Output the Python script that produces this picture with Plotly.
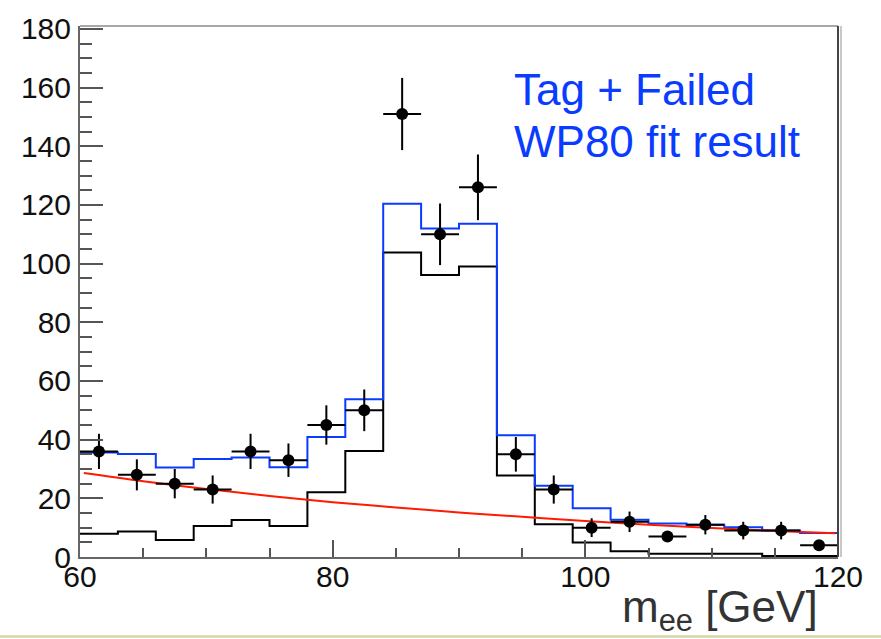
import plotly.graph_objects as go

# Di-electron invariant mass, 3 GeV bins from 60 to 120 GeV
bin_centers = [61.5, 64.5, 67.5, 70.5, 73.5, 76.5, 79.5, 82.5, 85.5, 88.5,
               91.5, 94.5, 97.5, 100.5, 103.5, 106.5, 109.5, 112.5, 115.5, 118.5]
bin_width = 3.0

# Observed events (tag + failed probe)
data_counts = [36, 28, 25, 23, 36, 33, 45, 50, 151, 110,
               126, 35, 23, 10, 12, 7, 11, 9, 9, 4]
data_errors = [6.0, 5.3, 5.0, 4.8, 6.0, 5.7, 6.7, 7.1, 12.3, 10.5,
               11.2, 5.9, 4.8, 3.2, 3.5, 1.5, 3.3, 3.0, 3.0, 1.5]

# Fit result: total (signal + background) and signal template
fit_total = [35.6, 35.1, 30.5, 33.4, 33.9, 30.6, 40.9, 53.8, 120.4, 112.0,
             113.6, 41.5, 24.3, 16.6, 12.7, 11.4, 11.0, 10.1, 9.0, 8.2]
fit_signal = [7.9, 8.7, 5.8, 10.6, 12.6, 10.6, 22.1, 36.1, 103.8, 96.1,
              99.0, 27.8, 11.2, 4.9, 2.0, 1.1, 1.1, 1.1, 0.3, 0.3]

# Background shape from the fit
bkg_mass = [60.3, 65, 70, 75, 80, 85, 90, 95, 100, 105, 110, 115, 119.8]
bkg_value = [28.6, 25.8, 23.2, 20.8, 18.7, 16.9, 15.2, 13.7, 12.3, 11.0, 9.9, 8.9, 8.1]

x_ticks = [60, 80, 100, 120]
y_ticks = [0, 20, 40, 60, 80, 100, 120, 140, 160, 180]

BLUE = "#0a3cff"
RED = "#ff1a00"
FONT = "Liberation Sans, Arial, Helvetica, sans-serif"

W, H = 881, 639
ML, MR, MT, MB = 80, 43, 18, 82
PW, PH = W - ML - MR, H - MT - MB
X_RANGE = [60, 120]
Y_RANGE = [0, 181]


def step_xy(centers, values):
    edges = [c - bin_width / 2 for c in centers] + [centers[-1] + bin_width / 2]
    return edges, list(values) + [values[-1]]


fig = go.Figure()

sx, sy = step_xy(bin_centers, fit_signal)
fig.add_trace(go.Scatter(x=sx, y=sy, mode="lines", line_shape="hv",
                         line=dict(color="#000000", width=2), hoverinfo="skip"))

tx, ty = step_xy(bin_centers, fit_total)
fig.add_trace(go.Scatter(x=tx, y=ty, mode="lines", line_shape="hv",
                         line=dict(color=BLUE, width=2), hoverinfo="skip"))

fig.add_trace(go.Scatter(x=bkg_mass, y=bkg_value, mode="lines", line_shape="spline",
                         line=dict(color=RED, width=2), hoverinfo="skip"))

fig.add_trace(go.Scatter(
    x=bin_centers, y=data_counts, mode="markers",
    marker=dict(color="#000000", size=12, symbol="circle"),
    error_y=dict(type="data", array=data_errors, color="#000000", thickness=2, width=0),
    error_x=dict(type="constant", value=bin_width / 2, color="#000000", thickness=2, width=0),
))

tick_font = dict(family=FONT, size=30, color="#111111")

fig.update_xaxes(
    range=X_RANGE, tickmode="array", tickvals=x_ticks, ticktext=[str(v) for v in x_ticks],
    ticks="inside", ticklen=17, tickwidth=2, tickcolor="#555555",
    minor=dict(dtick=5, ticks="inside", ticklen=9, tickwidth=2, tickcolor="#555555"),
    showline=True, linecolor="#666666", linewidth=2,
    showgrid=False, zeroline=False, tickfont=tick_font, ticklabelstandoff=-8,
)
fig.update_yaxes(
    range=Y_RANGE, tickmode="array", tickvals=y_ticks, ticktext=[str(v) for v in y_ticks],
    ticks="inside", ticklen=23, tickwidth=2, tickcolor="#555555",
    minor=dict(dtick=5, ticks="inside", ticklen=12, tickwidth=2, tickcolor="#555555"),
    showline=True, linecolor="#666666", linewidth=2,
    showgrid=False, zeroline=False, tickfont=tick_font, ticklabelstandoff=1,
)


def px_to_paper_x(px):
    return (px - ML) / PW


def px_to_paper_y(py):
    return (H - MB - py) / PH


shapes = [
    # top frame edge
    dict(type="line", xref="paper", yref="paper", x0=0, x1=1, y0=1, y1=1,
         line=dict(color="#a8a8a8", width=2)),
    # right frame edge with its light shadow
    dict(type="line", xref="paper", yref="paper", x0=px_to_paper_x(841), x1=px_to_paper_x(841),
         y0=0, y1=1, line=dict(color="#c8c8c8", width=2)),
    dict(type="line", xref="paper", yref="paper", x0=1, x1=1, y0=0, y1=1,
         line=dict(color="#444444", width=2)),
    # slide footer rule
    dict(type="rect", xref="paper", yref="paper",
         x0=px_to_paper_x(0), x1=px_to_paper_x(W),
         y0=px_to_paper_y(639), y1=px_to_paper_y(636.5),
         line=dict(width=0), fillcolor="#d6d6ab"),
]

annotations = [
    dict(text="Tag + Failed", xref="paper", yref="paper",
         x=px_to_paper_x(512), y=px_to_paper_y(82), xanchor="left", yanchor="middle",
         showarrow=False, font=dict(family=FONT, size=44, color=BLUE)),
    dict(text="WP80 fit result", xref="paper", yref="paper",
         x=px_to_paper_x(512), y=px_to_paper_y(135), xanchor="left", yanchor="middle",
         showarrow=False, font=dict(family=FONT, size=44, color=BLUE)),
    dict(text="m<sub>ee</sub> [GeV]", xref="paper", yref="paper",
         x=px_to_paper_x(820), y=px_to_paper_y(611), xanchor="right", yanchor="middle",
         showarrow=False, font=dict(family=FONT, size=44, color="#333333")),
]

fig.update_layout(
    width=W, height=H,
    margin=dict(l=ML, r=MR, t=MT, b=MB, pad=0),
    paper_bgcolor="#ffffff", plot_bgcolor="#ffffff",
    showlegend=False,
    shapes=shapes, annotations=annotations,
)

fig.write_html("out.html")
